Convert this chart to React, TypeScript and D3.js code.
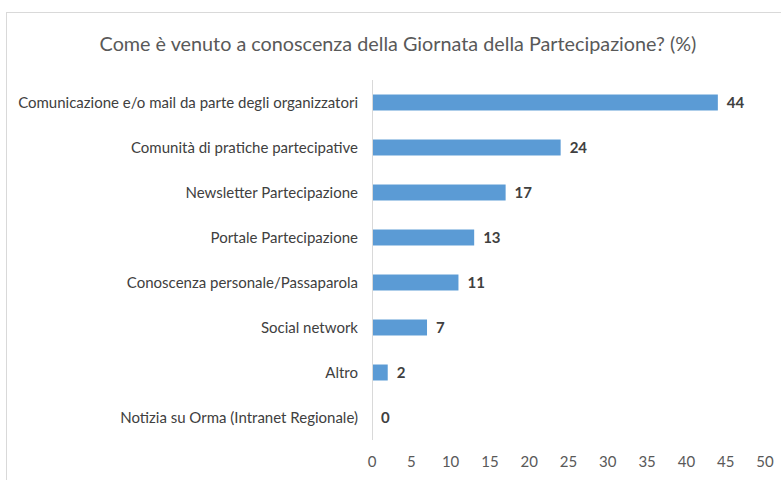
import React from 'react';
import * as d3 from 'd3';

// Survey answers (percent)
const categories = [
  'Comunicazione e/o mail da parte degli organizzatori',
  'Comunità di pratiche partecipative',
  'Newsletter Partecipazione',
  'Portale Partecipazione',
  'Conoscenza personale/Passaparola',
  'Social network',
  'Altro',
  'Notizia su Orma (Intranet Regionale)',
];
const values = [44, 24, 17, 13, 11, 7, 2, 0];
const xTicks = [0, 5, 10, 15, 20, 25, 30, 35, 40, 45, 50];
const title = 'Come è venuto a conoscenza della Giornata della Partecipazione? (%)';

const width = 781;
const height = 480;
const FONT = 'Lato, "Open Sans", sans-serif';

const App: React.FC = () => {
  const margin = { top: 80, right: 16, bottom: 40, left: 372 };

  const x = d3.scaleLinear().domain([0, 50]).range([margin.left, width - margin.right]);
  const y = d3
    .scaleBand<string>()
    .domain(categories)
    .range([margin.top, height - margin.bottom])
    .paddingInner(0.645)
    .paddingOuter(0.3225);

  const step = y.step();
  const axisTop = (y(categories[0]) as number) - (step - y.bandwidth()) / 2;
  const axisBottom = (y(categories[categories.length - 1]) as number) + y.bandwidth() + (step - y.bandwidth()) / 2;

  return (
    <div style={{ position: 'absolute', left: 0, top: 0 }}>
      <svg width={width} height={height} style={{ display: 'block', background: '#fff' }}>
        {/* chart frame */}
        <rect x={6.5} y={12.5} width={width} height={height} fill="#fff" stroke="#d9d9d9" strokeWidth={1} />

        <text
          x={398}
          y={51}
          textAnchor="middle"
          fontFamily={FONT}
          fontSize={19.8}
          fill="#595959"
        >
          {title}
        </text>

        {/* bars */}
        {categories.map((c, i) => (
          <rect
            key={c}
            x={x(0)}
            y={y(c)}
            width={x(values[i]) - x(0)}
            height={y.bandwidth()}
            fill="#5b9bd5"
          />
        ))}

        {/* vertical axis line */}
        <line x1={x(0) + 0.5} x2={x(0) + 0.5} y1={axisTop} y2={axisBottom} stroke="#d9d9d9" strokeWidth={1} />

        {/* category labels */}
        {categories.map((c) => (
          <text
            key={c}
            x={358}
            y={(y(c) as number) + y.bandwidth() / 2}
            dy="0.35em"
            textAnchor="end"
            fontFamily={FONT}
            fontSize={15}
            fill="#404040"
          >
            {c}
          </text>
        ))}

        {/* value labels */}
        {categories.map((c, i) => (
          <text
            key={c}
            x={x(values[i]) + 9}
            y={(y(c) as number) + y.bandwidth() / 2}
            dy="0.35em"
            fontFamily={FONT}
            fontSize={15}
            fontWeight="bold"
            fill="#404040"
          >
            {values[i]}
          </text>
        ))}

        {/* x tick labels */}
        {xTicks.map((t) => (
          <text
            key={t}
            x={x(t)}
            y={462}
            dy="0.35em"
            textAnchor="middle"
            fontFamily={FONT}
            fontSize={15}
            fill="#595959"
          >
            {t}
          </text>
        ))}
      </svg>
    </div>
  );
};

export default App;
